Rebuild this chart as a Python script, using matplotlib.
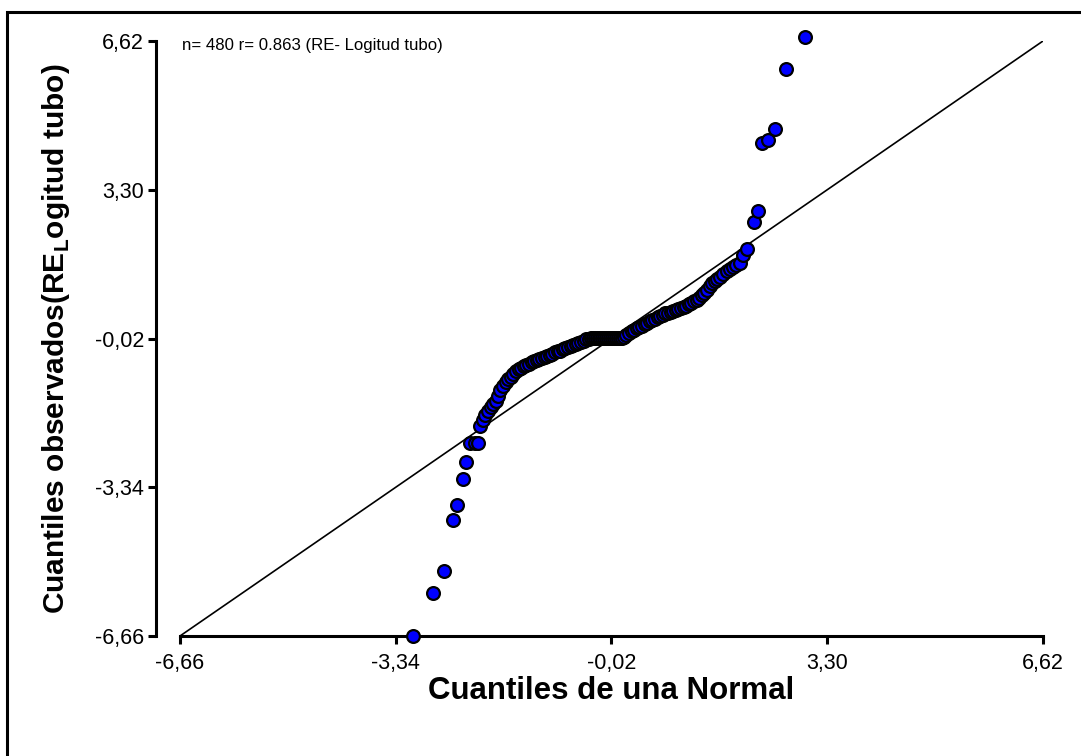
import matplotlib
matplotlib.use('Agg')
import matplotlib.pyplot as plt
from matplotlib.patches import Rectangle

plt.rcParams['font.family'] = ['Liberation Sans', 'DejaVu Sans']
plt.rcParams['mathtext.fontset'] = 'custom'
plt.rcParams['mathtext.bf'] = 'Liberation Sans:bold'
plt.rcParams['mathtext.rm'] = 'Liberation Sans'

# ticks del grafico (coma decimal)
ticks = [-6.66, -3.34, -0.02, 3.30, 6.62]
tick_labels = ['-6,66', '-3,34', '-0,02', '3,30', '6,62']

# cuantiles teoricos (normal)
x_teo = [-3.07, -2.76, -2.59, -2.46, -2.40, -2.30, -2.26, -2.20, -2.12, -2.07,
         -2.04, -2.00, -1.96, -1.92, -1.88, -1.84, -1.80, -1.76, -1.73, -1.69,
         -1.65, -1.61, -1.57, -1.53, -1.49, -1.45, -1.41, -1.37, -1.33, -1.29,
         -1.25, -1.21, -1.17, -1.13, -1.09, -1.05, -1.01, -0.97, -0.93, -0.89,
         -0.85, -0.81, -0.77, -0.73, -0.69, -0.65, -0.61, -0.57, -0.53, -0.49,
         -0.45, -0.41, -0.37,
         -0.34, -0.31, -0.28, -0.25, -0.22, -0.19, -0.16, -0.13, -0.10, -0.07,
         -0.04, -0.01, 0.02, 0.05, 0.08, 0.11, 0.14,
         0.17, 0.21, 0.25, 0.29, 0.33, 0.37, 0.41, 0.45, 0.49, 0.53,
         0.57, 0.61, 0.65, 0.69, 0.73, 0.77, 0.81, 0.85, 0.89, 0.93,
         0.97, 1.01, 1.05, 1.09, 1.13, 1.17, 1.21, 1.25, 1.29, 1.33,
         1.37, 1.41, 1.45, 1.49, 1.53, 1.57, 1.61, 1.65, 1.70, 1.75,
         1.80, 1.85, 1.90, 1.96, 2.01, 2.06,
         2.17, 2.24, 2.29, 2.39, 2.49, 2.66, 2.96]

# cuantiles observados (RE Logitud tubo)
y_obs = [-6.66, -5.70, -5.22, -4.07, -3.73, -3.16, -2.77, -2.36, -2.36, -2.36,
         -1.97, -1.85, -1.72, -1.63, -1.55, -1.49, -1.42, -1.30, -1.18, -1.08,
         -1.00, -0.93, -0.87, -0.81, -0.75, -0.71, -0.67, -0.64, -0.61, -0.58,
         -0.55, -0.53, -0.51, -0.48, -0.45, -0.43, -0.40, -0.38, -0.36, -0.33,
         -0.31, -0.29, -0.26, -0.24, -0.21, -0.19, -0.17, -0.14, -0.12, -0.09,
         -0.07, -0.04, -0.02,
         0.00, 0.00, 0.00, 0.00, 0.00, 0.00, 0.00, 0.00, 0.00, 0.00,
         0.00, 0.00, 0.00, 0.00, 0.00, 0.00, 0.00,
         0.02, 0.06, 0.10, 0.14, 0.18, 0.21, 0.24, 0.27, 0.30, 0.33,
         0.36, 0.39, 0.42, 0.45, 0.48, 0.51, 0.54, 0.56, 0.58, 0.60,
         0.62, 0.64, 0.67, 0.69, 0.71, 0.74, 0.77, 0.81, 0.85, 0.89,
         0.94, 1.00, 1.07, 1.15, 1.22, 1.27, 1.30, 1.35, 1.41, 1.48,
         1.54, 1.58, 1.62, 1.66, 1.84, 1.98,
         2.58, 2.83, 4.35, 4.41, 4.65, 5.99, 6.71]

fig = plt.figure(figsize=(10.81, 7.56), dpi=100)
ax = fig.add_axes([180/1081, 1 - 636/756, (1043 - 180)/1081, (636 - 41)/756])

# recta y = x
ax.plot([ticks[0], ticks[-1]], [ticks[0], ticks[-1]], color='black', lw=1.2, zorder=1)
ax.scatter(x_teo, y_obs, s=85, c='#0000ff', edgecolors='black', linewidths=1.6,
           zorder=3, clip_on=False)

ax.set_xlim(ticks[0], ticks[-1])
ax.set_ylim(ticks[0], ticks[-1])
ax.set_xticks(ticks)
ax.set_xticklabels(tick_labels)
ax.set_yticks(ticks)
ax.set_yticklabels(tick_labels)

ax.spines['top'].set_visible(False)
ax.spines['right'].set_visible(False)
ax.spines['left'].set_position(('outward', 17))
for s in ['left', 'bottom']:
    ax.spines[s].set_linewidth(2.2)
ax.tick_params(direction='out', length=6, width=2.2, labelsize=15.5)
ax.tick_params(axis='x', pad=6)
ax.tick_params(axis='y', pad=3)

ax.set_xlabel('Cuantiles de una Normal', fontsize=22.5, fontweight='bold', labelpad=2)
ax.set_ylabel(r'Cuantiles observados(RE$_{\mathbf{L}}$ogitud tubo)', fontsize=21.5,
              fontweight='bold', labelpad=16)

ax.text(-6.63, 6.53, 'n= 480 r= 0.863 (RE- Logitud tubo)', fontsize=12.1, va='center')

# marco exterior
fig.patches.append(Rectangle((7/1081, -0.1), 1.2, 1.1 - 12/756, transform=fig.transFigure,
                             fill=False, lw=2.2, edgecolor='black'))

fig.savefig('out.png', dpi=100)
